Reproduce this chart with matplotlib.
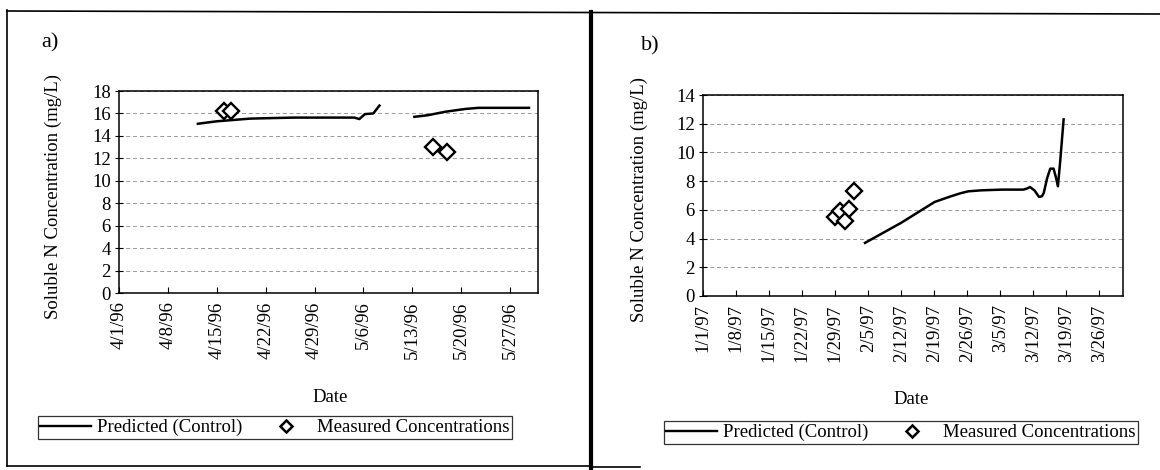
import numpy as np
import pandas as pd
import matplotlib
matplotlib.use("Agg")
import matplotlib.pyplot as plt
import matplotlib.dates as mdates
from matplotlib.lines import Line2D
from matplotlib.ticker import MultipleLocator, FuncFormatter

plt.rcParams["font.family"] = ["Liberation Serif", "DejaVu Serif"]

# a) 1996 run -- predicted line has a gap between the two segments (NaN)
pred_a_dates = ["1996-04-12 07:00", "1996-04-15 00:00", "1996-04-19 19:00", "1996-04-26 00:00",
                "1996-05-04 17:00", "1996-05-05 10:00", "1996-05-06 05:00", "1996-05-07 10:00",
                "1996-05-08 07:00", "1996-05-10 00:00",
                "1996-05-13 07:00", "1996-05-15 05:00", "1996-05-17 17:00", "1996-05-20 14:00",
                "1996-05-22 12:00", "1996-05-29 17:00"]
pred_a_vals = [15.08, 15.3, 15.54, 15.63, 15.63, 15.5, 15.94, 16.0, 16.7, np.nan,
               15.7, 15.84, 16.15, 16.4, 16.5, 16.5]
meas_a_dates = ["1996-04-16", "1996-04-17", "1996-05-16", "1996-05-18"]
meas_a_vals = [16.2, 16.2, 13.0, 12.6]

# b) 1997 run
pred_b_dates = ["1997-02-04 08:00", "1997-02-12 00:00", "1997-02-19 02:00", "1997-02-22 14:00",
                "1997-02-24 12:00", "1997-02-26 05:00", "1997-03-01 00:00", "1997-03-05 07:00",
                "1997-03-09 22:00", "1997-03-10 18:00", "1997-03-11 07:00", "1997-03-12 06:00",
                "1997-03-13 05:00", "1997-03-13 20:00", "1997-03-14 05:00", "1997-03-14 22:00",
                "1997-03-15 14:00", "1997-03-16 07:00", "1997-03-16 20:00", "1997-03-17 05:00",
                "1997-03-17 17:00", "1997-03-18 10:00"]
pred_b_vals = [3.7, 5.1, 6.55, 6.95, 7.15, 7.29, 7.36, 7.41,
               7.41, 7.5, 7.59, 7.35,
               6.9, 6.95, 7.18, 8.2,
               8.87, 8.87, 8.2, 7.64,
               9.44, 12.3]
meas_b_dates = ["1997-01-29", "1997-01-30", "1997-01-31", "1997-02-01", "1997-02-02"]
meas_b_vals = [5.5, 5.92, 5.22, 6.04, 7.31]

W, H = 1160, 470
fig = plt.figure(figsize=(W / 100, H / 100), dpi=100)


def px(x):
    return x / W


def py(y):
    return 1 - y / H


def line(x0, y0, x1, y1, lw=1.2):
    fig.add_artist(Line2D([px(x0), px(x1)], [py(y0), py(y1)], transform=fig.transFigure,
                          color="black", lw=lw))


def date_fmt(x, pos):
    d = mdates.num2date(x)
    return f"{d.month}/{d.day}/{d.year % 100:02d}"


def panel(rect, pd_dates, pd_vals, md_dates, md_vals, xlim, ymax, first_tick):
    ax = fig.add_axes(rect)
    ax.plot(pd.to_datetime(pd_dates), pd_vals, color="black", lw=1.8)
    ax.plot(pd.to_datetime(md_dates), md_vals, ls="none", marker="D", ms=8,
            mfc="white", mec="black", mew=1.7)
    ax.set_xlim(pd.Timestamp(xlim[0]), pd.Timestamp(xlim[1]))
    ax.set_ylim(0, ymax)
    ax.yaxis.set_major_locator(MultipleLocator(2))
    ticks = pd.date_range(first_tick, xlim[1], freq="7D")
    ax.set_xticks(ticks)
    ax.xaxis.set_major_formatter(FuncFormatter(date_fmt))
    ax.tick_params(axis="x", direction="in", length=4, labelsize=13.5, rotation=90, pad=6)
    ax.tick_params(axis="y", direction="inout", length=6, labelsize=13.5, pad=3)
    ax.yaxis.grid(True, color="#999999", ls=(0, (4, 3)), lw=0.7)
    for s in ax.spines.values():
        s.set_linewidth(1.1)
    ax.set_ylabel("Soluble N Concentration (mg/L)", fontsize=13.5)
    return ax


axa = panel([px(119), py(293), px(538 - 119), (293 - 91) / H],
            pred_a_dates, pred_a_vals, meas_a_dates, meas_a_vals,
            ("1996-04-01", "1996-05-31"), 18, "1996-04-01")
axa.yaxis.set_label_coords((62 - 119) / 419, 0.48)

axb = panel([px(703), py(296), px(1123 - 703), (296 - 95) / H],
            pred_b_dates, pred_b_vals, meas_b_dates, meas_b_vals,
            ("1997-01-01", "1997-03-31"), 14, "1997-01-01")
axb.yaxis.set_label_coords((648 - 703) / 420, 0.48)

fig.text(px(330), py(397), "Date", ha="center", va="center", fontsize=13.5)
fig.text(px(911), py(400), "Date", ha="center", va="center", fontsize=13.5)
fig.text(px(50), py(43), "a)", ha="center", va="center", fontsize=16)
fig.text(px(650), py(46), "b)", ha="center", va="center", fontsize=16)

handles = [Line2D([], [], color="black", lw=1.7),
           Line2D([], [], ls="none", marker="D", ms=6, mfc="white", mec="black", mew=1.8)]
labels = ["Predicted (Control)", "Measured Concentrations"]
for cx, cy in [(275, 427.5), (901, 432.5)]:
    leg = fig.legend(handles, labels, loc="center", bbox_to_anchor=(px(cx), py(cy)), ncol=2,
                     fontsize=13.5, frameon=True, fancybox=False, edgecolor="black",
                     handlelength=2.7, handletextpad=0.3, columnspacing=1.0,
                     borderpad=0.15, borderaxespad=0)
    leg.get_frame().set_linewidth(0.9)

# page frame lines of the scanned figure
line(7, 10, 7, 466)
line(7, 466, 591, 466)
line(7, 11, 1160, 14)
line(591, 12, 591, 470, lw=3)
line(591, 467, 640, 467)

fig.savefig("out.png", dpi=100)
